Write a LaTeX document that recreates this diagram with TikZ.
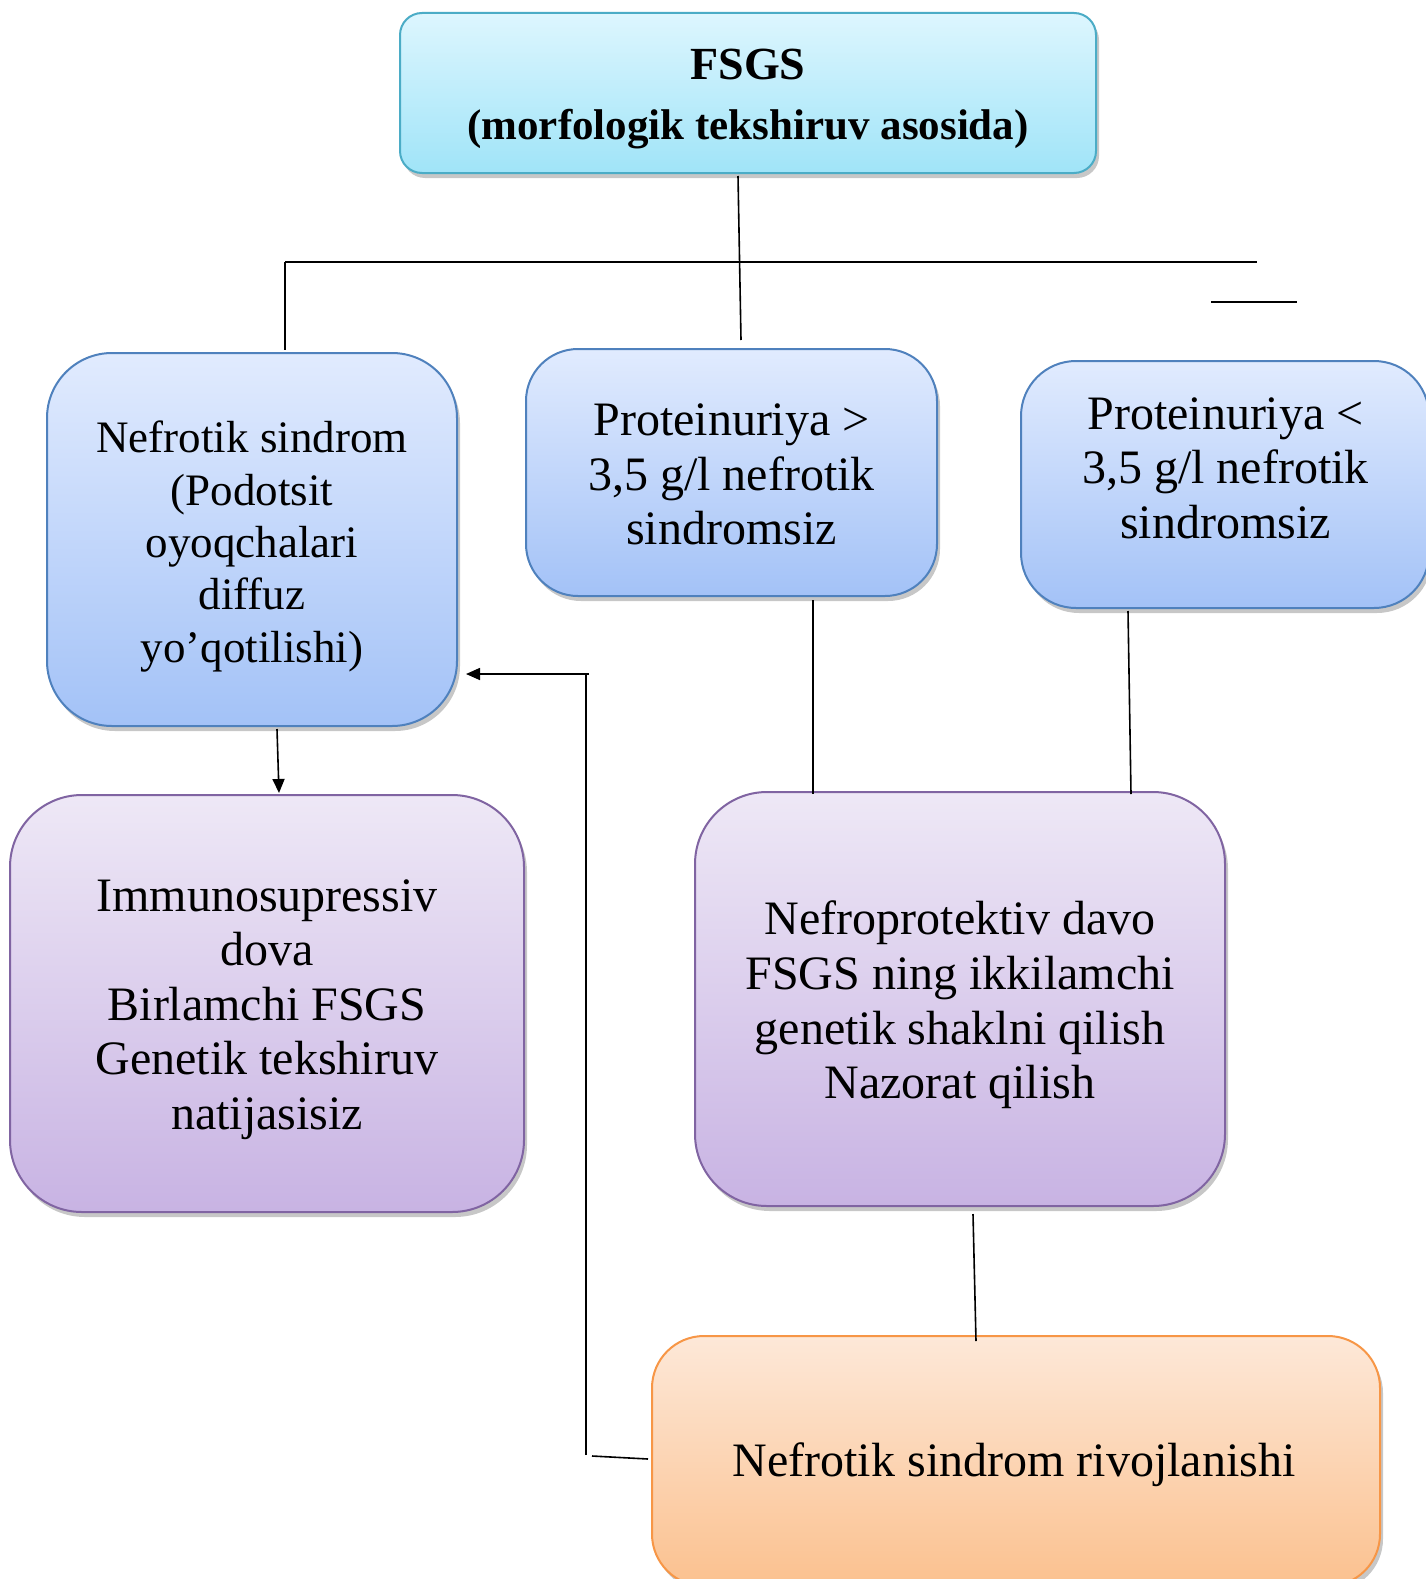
\documentclass[tikz,border=0pt]{standalone}
\usepackage{fontspec}
\setmainfont{Liberation Serif}
\usetikzlibrary{arrows.meta,shadows}
\definecolor{cyTop}{HTML}{DDF6FE}
\definecolor{cyBot}{HTML}{A0E4F8}
\definecolor{cyLine}{HTML}{4BACC6}
\definecolor{blTop}{HTML}{E1EBFE}
\definecolor{blBot}{HTML}{A3C2F7}
\definecolor{blLine}{HTML}{4F81BD}
\definecolor{puTop}{HTML}{EEE8F6}
\definecolor{puBot}{HTML}{C8B3E3}
\definecolor{puLine}{HTML}{8064A2}
\definecolor{orTop}{HTML}{FDE8D8}
\definecolor{orBot}{HTML}{FBC18F}
\definecolor{orLine}{HTML}{F79646}
\begin{document}
\begin{tikzpicture}[x=1pt,y=-1pt,
  boxbase/.style={draw, line width=2pt, inner sep=0pt,
    drop shadow={shadow xshift=3pt, shadow yshift=-5pt, fill=black, opacity=0.22}},
  cybox/.style={boxbase, draw=cyLine, top color=cyTop, bottom color=cyBot},
  blbox/.style={boxbase, draw=blLine, top color=blTop, bottom color=blBot},
  pubox/.style={boxbase, draw=puLine, top color=puTop, bottom color=puBot},
  orbox/.style={boxbase, draw=orLine, top color=orTop, bottom color=orBot},
  txt/.style={align=center, inner sep=0pt},
  bigtxt/.style={txt, font=\fontsize{48}{54.6}\selectfont},
  conn/.style={line width=1.6pt, black},
  arr/.style={conn, -{Triangle[length=14pt,width=12pt]}}
]
\useasboundingbox (0,0) rectangle (1426,1579);
\clip (0,0) rectangle (1426,1579);
\fill[white] (0,0) rectangle (1426,1579);

% boxes
\node[cybox, rounded corners=22pt, minimum width=696pt, minimum height=160pt] (top) at (748,93) {};
\node[txt, font=\bfseries\fontsize{43}{59.4}\selectfont] (toptext) at (748,99)
  {{\fontsize{46}{59.4}\selectfont FSGS}\\(morfologik tekshiruv asosida)};

\node[blbox, rounded corners=65pt, minimum width=410pt, minimum height=373pt] (A) at (252,539.5) {};
\node[txt, font=\fontsize{45}{52.4}\selectfont] (Atext) at (252,546.5)
  {Nefrotik sindrom\\(Podotsit\\oyoqchalari\\diffuz\\yo’qotilishi)};

\node[blbox, rounded corners=52pt, minimum width=411pt, minimum height=247pt] (B) at (731.5,472.5) {};
\node[bigtxt] (Btext) at (731.5,474.5)
  {Proteinuriya >\\3,5 g/l nefrotik\\sindromsiz};

\node[blbox, rounded corners=55pt, minimum width=408pt, minimum height=247pt] (C) at (1225,484.5) {};
\node[bigtxt] (Ctext) at (1225.5,468)
  {Proteinuriya <\\3,5 g/l nefrotik\\sindromsiz};

\node[pubox, rounded corners=72pt, minimum width=514pt, minimum height=417pt] (D) at (267,1003.5) {};
\node[bigtxt] (Dtext) at (267,1009.5)
  {Immunosupressiv\\dova\\Birlamchi FSGS\\Genetik tekshiruv\\natijasisiz};

\node[pubox, rounded corners=72pt, minimum width=530pt, minimum height=414pt] (E) at (960,999) {};
\node[bigtxt] (Etext) at (960,1005)
  {Nefroprotektiv davo\\FSGS ning ikkilamchi\\genetik shaklni qilish\\Nazorat qilish};

\node[orbox, rounded corners=52pt, minimum width=728pt, minimum height=250pt] (F) at (1016,1461) {};
\node[bigtxt] (Ftext) at (1014,1465) {Nefrotik sindrom rivojlanishi};

% connector points
\coordinate (t1) at (738,176);
\coordinate (t2) at (741,340);
\coordinate (hL) at (285,262);
\coordinate (hR) at (1257,262);
\coordinate (sL) at (1211,302);
\coordinate (sR) at (1297,302);
\coordinate (aTop) at (285,350);
\coordinate (b1) at (813,600);
\coordinate (b2) at (813,794);
\coordinate (c1) at (1128,611);
\coordinate (c2) at (1131,794);
\coordinate (e1) at (973,1214);
\coordinate (e2) at (976,1341);
\coordinate (a1) at (277,729);
\coordinate (d1) at (279,793);
\coordinate (f1) at (648,1459);
\coordinate (f2) at (592,1456);
\coordinate (v1) at (586,1455);
\coordinate (v2) at (586,674);
\coordinate (h1) at (589,674);
\coordinate (h2) at (466,674);

% connectors
\draw[conn] (t1) -- (t2);
\draw[conn] (hL) -- (hR);
\draw[conn] (sL) -- (sR);
\draw[conn] (hL) -- (aTop);
\draw[conn] (b1) -- (b2);
\draw[conn] (c1) -- (c2);
\draw[conn] (e1) -- (e2);
\draw[arr] (a1) -- (d1);
\draw[conn] (f1) -- (f2);
\draw[conn] (v1) -- (v2);
\draw[arr] (h1) -- (h2);
\end{tikzpicture}
\end{document}
